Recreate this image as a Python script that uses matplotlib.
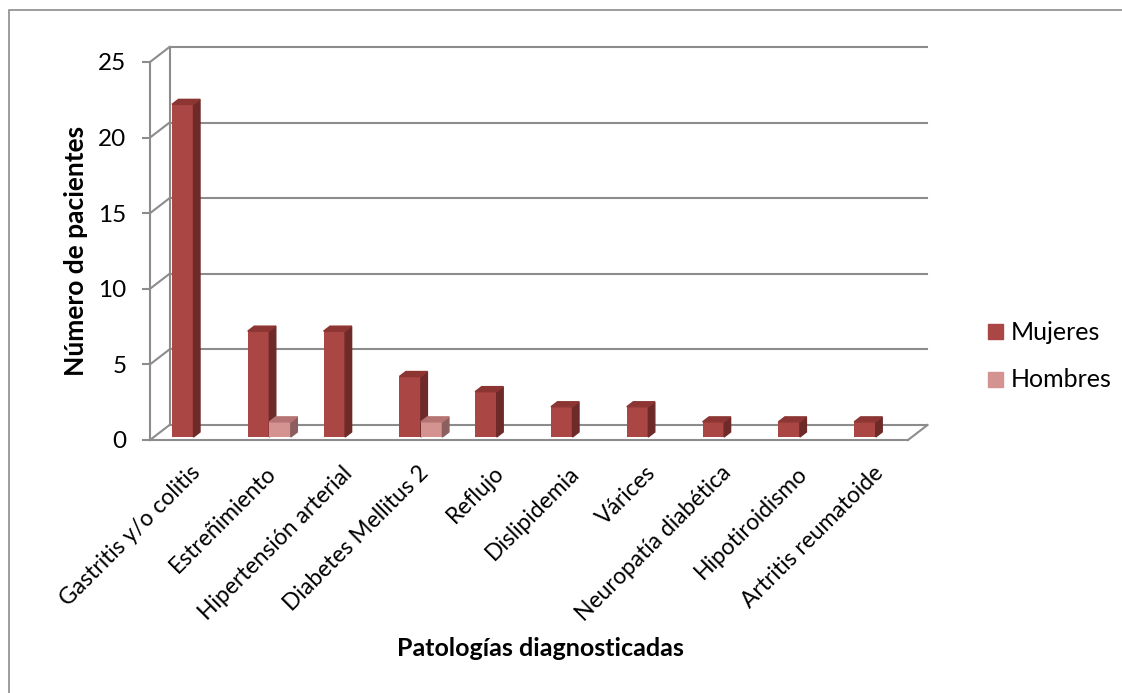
import numpy as np
import matplotlib.pyplot as plt
from matplotlib.patches import Polygon, Rectangle
from matplotlib.transforms import ScaledTranslation

plt.rcParams['font.family'] = ['Lato', 'DejaVu Sans']

categorias = ['Gastritis y/o colitis', 'Estreñimiento', 'Hipertensión arterial',
              'Diabetes Mellitus 2', 'Reflujo', 'Dislipidemia', 'Várices',
              'Neuropatía diabética', 'Hipotiroidismo', 'Artritis reumatoide']
mujeres = [22, 7, 7, 4, 3, 2, 2, 1, 1, 1]
hombres = [0, 1, 0, 1, 0, 0, 0, 0, 0, 0]
ticks_y = [0, 5, 10, 15, 20, 25]
series = ['Mujeres', 'Hombres']

# colores (frente, lado, tapa)
col_m = ('#AA4643', '#6D2A28', '#8C3533')
col_h = ('#D49291', '#8C5F5E', '#B57371')
gris = '#8C8C8C'

W, H = 1122, 693
fig = plt.figure(figsize=(W / 100, H / 100), dpi=100)
ax = fig.add_axes([150 / W, 253 / H, 758 / W, 378 / H])
ax.set_xlim(-0.5, 9.5)
ax.set_ylim(0, 25)
ax.patch.set_visible(False)

inv = ax.transData.inverted()
def px2data(dx, dy):
    p0 = inv.transform((0, 0))
    p1 = inv.transform((dx, dy))
    return p1 - p0

# pared del fondo (desplazamiento 3D)
bx, by = px2data(19.5, 15)
for y in ticks_y:
    ax.plot([-0.5 + bx, 9.5 + bx], [y + by, y + by], color=gris, lw=1.5, clip_on=False, zorder=1)
    ax.plot([-0.5, -0.5 + bx], [y, y + by], color=gris, lw=1.5, clip_on=False, zorder=1)
ax.plot([-0.5 + bx, -0.5 + bx], [by, 25 + by], color=gris, lw=1.5, clip_on=False, zorder=1)
ax.plot([9.5, 9.5 + bx], [0, by], color=gris, lw=1.5, clip_on=False, zorder=1)

# barras 3D
w = 0.284
_, base = px2data(0, 3)
sx, sy = px2data(6.5, 5)

def barra3d(x0, v, cols):
    ax.bar(x0, v, w, bottom=base, align='edge', color=cols[0], zorder=3)
    top = base + v
    ax.add_patch(Polygon([(x0 + w, base), (x0 + w + sx, base + sy),
                          (x0 + w + sx, top + sy), (x0 + w, top)],
                         closed=True, color=cols[1], zorder=3))
    ax.add_patch(Polygon([(x0, top), (x0 + w, top), (x0 + w + sx, top + sy),
                          (x0 + sx, top + sy)], closed=True, color=cols[2], zorder=3))

for i in range(len(categorias)):
    xm = i - 0.21
    if mujeres[i] > 0:
        barra3d(xm, mujeres[i], col_m)
    if hombres[i] > 0:
        barra3d(xm + w, hombres[i], col_h)

# ejes
for s in ['top', 'right']:
    ax.spines[s].set_visible(False)
for s in ['left', 'bottom']:
    ax.spines[s].set_color(gris)
    ax.spines[s].set_linewidth(1.5)
ax.set_yticks(ticks_y)
ax.tick_params(axis='y', length=6, width=1.5, color=gris, pad=11, labelsize=17.5)
ax.set_xticks(range(len(categorias)))
ax.set_xticklabels(categorias, rotation=45, ha='right', rotation_mode='anchor', fontsize=16.5)
ax.tick_params(axis='x', length=0, pad=16)
off = ScaledTranslation(0.02, 0, fig.dpi_scale_trans)
for lbl in ax.get_xticklabels():
    lbl.set_transform(lbl.get_transform() + off)

ax.set_ylabel('Número de pacientes', fontsize=19, fontweight='bold')
ax.yaxis.set_label_coords(-0.082, 0.5)
fig.text(540 / W, 1 - 648 / H, 'Patologías diagnosticadas', fontsize=18,
         fontweight='bold', ha='center', va='center')

# leyenda
for k, (nombre, col) in enumerate(zip(series, [col_m[0], col_h[0]])):
    yc = 332 + 47.5 * k
    fig.add_artist(Rectangle((988 / W, 1 - (yc + 7.5) / H), 15 / W, 15 / H,
                             transform=fig.transFigure, color=col))
    fig.text(1011 / W, 1 - yc / H, nombre, fontsize=18, ha='left', va='center')

# marco exterior
fig.add_artist(Rectangle((9 / W, -0.05), 1.2, 1 - 10 / H + 0.05, transform=fig.transFigure,
                         fill=False, edgecolor=gris, lw=1.2))

fig.savefig('out.png', dpi=100)
